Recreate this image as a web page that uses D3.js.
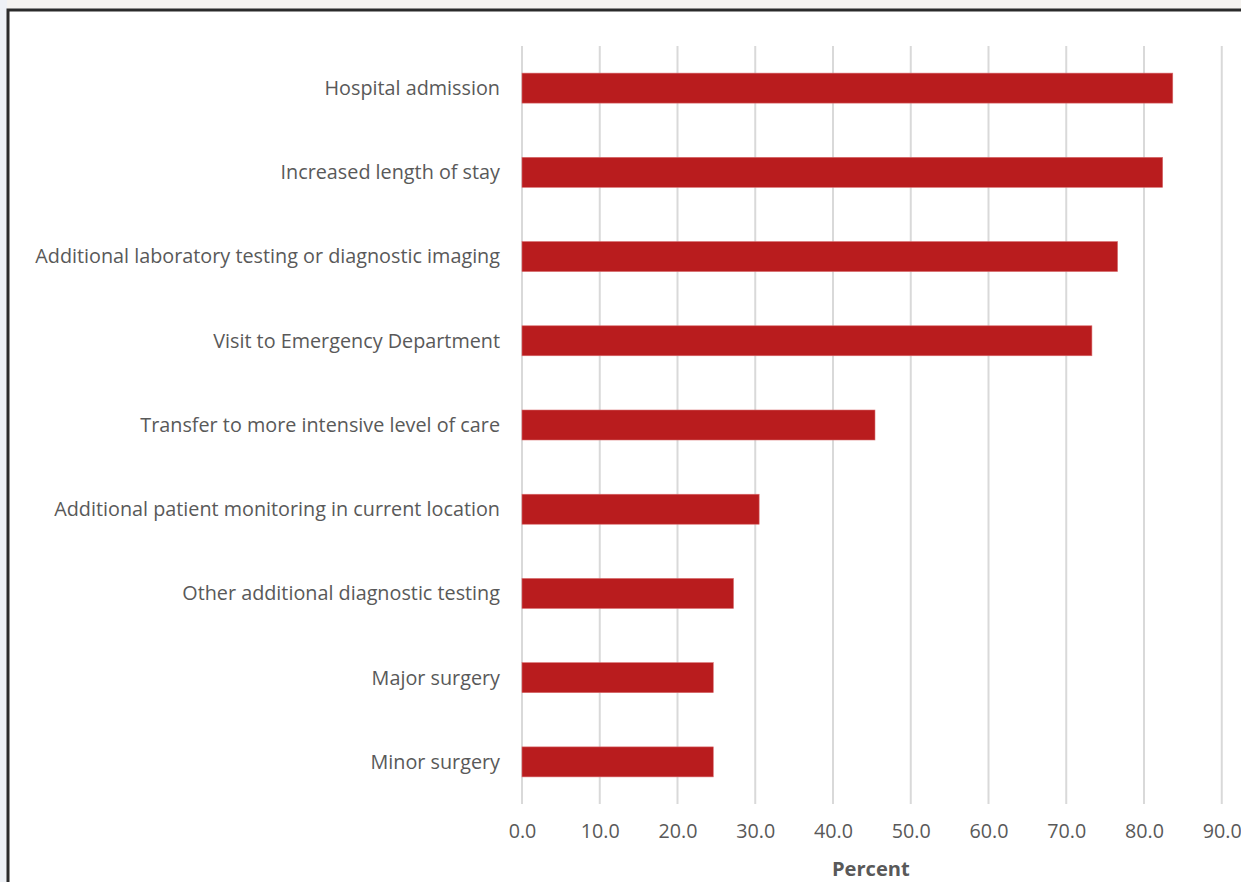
<!DOCTYPE html>
<html>
<head>
<meta charset="utf-8">
<script src="https://cdn.jsdelivr.net/npm/d3@7"></script>
<style>
  html, body { margin: 0; padding: 0; background: #f5f3f0; }
  svg { display: block; }
</style>
</head>
<body>
<svg id="chart" width="1241" height="882"></svg>
<script>
const categories = [
  "Hospital admission",
  "Increased length of stay",
  "Additional laboratory testing or diagnostic imaging",
  "Visit to Emergency Department",
  "Transfer to more intensive level of care",
  "Additional patient monitoring in current location",
  "Other additional diagnostic testing",
  "Major surgery",
  "Minor surgery"
];
const values = [83.7, 82.4, 76.6, 73.3, 45.4, 30.5, 27.2, 24.6, 24.6];
const tickValues = [0, 10, 20, 30, 40, 50, 60, 70, 80, 90];
const axisTitle = "Percent";

const svg = d3.select("#chart");
const W = 1241, H = 882;

svg.append("rect").attr("x", 0).attr("y", 0).attr("width", 7).attr("height", H).attr("fill", "#eef1f6");
svg.append("rect").attr("x", 8).attr("y", 10).attr("width", W + 10).attr("height", H + 10)
  .attr("fill", "#ffffff").attr("stroke", "#2b2b2b").attr("stroke-width", 3);

const x = d3.scaleLinear().domain([0, 90]).range([522, 1221.75]);
const y = d3.scaleBand().domain(categories).range([46, 804]).paddingInner(0.644).paddingOuter(0.322);

svg.append("g").selectAll("line").data(tickValues).join("line")
  .attr("x1", d => x(d)).attr("x2", d => x(d))
  .attr("y1", 46).attr("y2", 804)
  .attr("stroke", "#d9d9d9").attr("stroke-width", 2);

svg.append("g").selectAll("rect").data(values).join("rect")
  .attr("x", x(0))
  .attr("y", (d, i) => y(categories[i]))
  .attr("width", d => x(d) - x(0))
  .attr("height", y.bandwidth())
  .attr("fill", "#b91c1e")
  .attr("stroke", "#d86a6c").attr("stroke-width", 0.6);

const font = "'Open Sans', sans-serif";

// fit text group to a target width by adjusting font size
function fitSize(sel, target, base) {
  const w = d3.max(sel.nodes(), n => n.getComputedTextLength());
  const s = base * target / w;
  sel.attr("font-size", s);
}

const labels = svg.append("g").selectAll("text").data(categories).join("text")
  .attr("x", 500)
  .attr("y", d => y(d) + y.bandwidth() / 2)
  .attr("dy", "0.35em")
  .attr("text-anchor", "end")
  .attr("font-family", font)
  .attr("font-size", 18)
  .attr("fill", "#595959")
  .text(d => d);
fitSize(labels, 465, 18);

const xAxis = d3.axisBottom(x).tickValues(tickValues).tickFormat(d3.format(".1f")).tickSize(0).tickPadding(0);
const ax = svg.append("g").attr("transform", "translate(0,831)").call(xAxis);
ax.select(".domain").remove();
const tl = ax.selectAll("text")
  .attr("y", 0).attr("dy", "0.35em")
  .attr("font-family", font).attr("font-size", 18).attr("fill", "#595959");
fitSize(tl, 39, 18);

const title = svg.append("text")
  .attr("x", (x(0) + x(90)) / 2 - 1)
  .attr("y", 876)
  .attr("text-anchor", "middle")
  .attr("font-family", font)
  .attr("font-weight", "bold")
  .attr("font-size", 19)
  .attr("fill", "#595959")
  .text(axisTitle);
fitSize(title, 78, 19);
</script>
</body>
</html>
